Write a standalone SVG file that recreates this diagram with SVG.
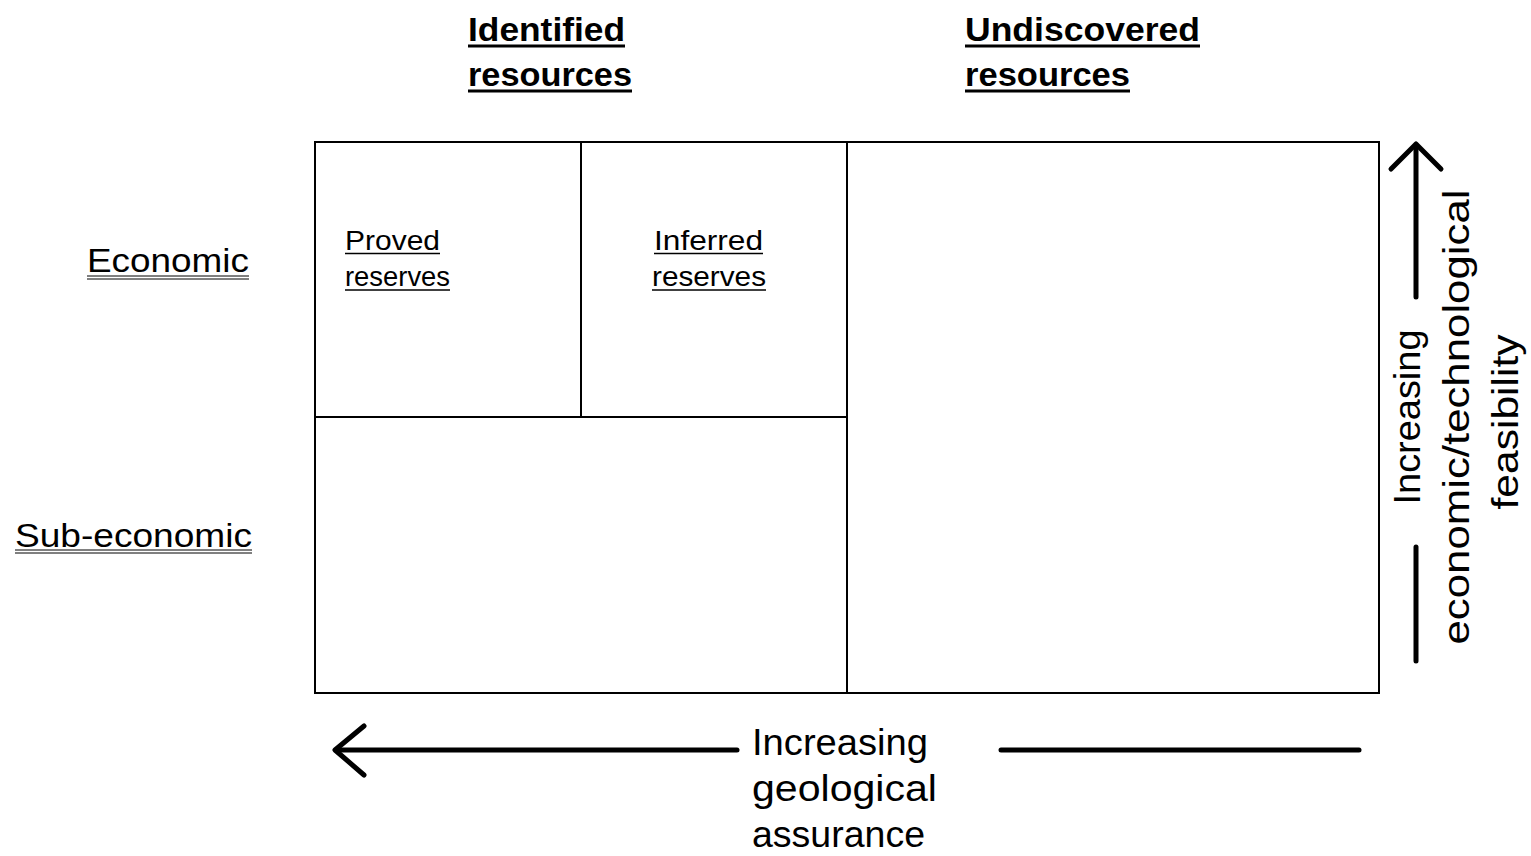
<svg xmlns="http://www.w3.org/2000/svg" width="1531" height="856" viewBox="0 0 1531 856">
<style>
text{font-family:"Liberation Sans",Arial,sans-serif;fill:#000}
.h{font-size:34px;font-weight:bold}
.c{font-size:28px}
.s{font-size:34px}
.a{font-size:36px}
.box{fill:none;stroke:#000;stroke-width:2}
.ul{stroke:#000;stroke-width:1.5}
.ulb{stroke:#000;stroke-width:3}
.ar{fill:none;stroke:#000;stroke-width:5;stroke-linecap:round;stroke-linejoin:round}
</style>
<rect width="1531" height="856" fill="#fff"/>
<g id="header-identified">
<text class="h" x="468" y="41" textLength="157" lengthAdjust="spacingAndGlyphs">Identified</text>
<text class="h" x="468" y="86" textLength="164" lengthAdjust="spacingAndGlyphs">resources</text>
<line class="ulb" x1="468" y1="46" x2="625" y2="46"/>
<line class="ulb" x1="468" y1="91" x2="632" y2="91"/>
</g>
<g id="header-undiscovered">
<text class="h" x="965" y="41" textLength="235" lengthAdjust="spacingAndGlyphs">Undiscovered</text>
<text class="h" x="965" y="86" textLength="165" lengthAdjust="spacingAndGlyphs">resources</text>
<line class="ulb" x1="965" y1="46" x2="1200" y2="46"/>
<line class="ulb" x1="965" y1="91" x2="1130" y2="91"/>
</g>
<g id="label-economic">
<text class="s" x="87" y="272" textLength="162" lengthAdjust="spacingAndGlyphs">Economic</text>
<line stroke="#000" stroke-width="1" x1="87" y1="276" x2="249" y2="276"/>
<line stroke="#000" stroke-width="1" x1="87" y1="279" x2="249" y2="279"/>
</g>
<g id="label-subeconomic">
<text class="s" x="15" y="547" textLength="237" lengthAdjust="spacingAndGlyphs">Sub-economic</text>
<line stroke="#000" stroke-width="1" x1="15" y1="550" x2="252" y2="550"/>
<line stroke="#000" stroke-width="1" x1="15" y1="553" x2="252" y2="553"/>
</g>
<g id="grid">
<rect class="box" x="315" y="142" width="1064" height="551"/>
<line class="box" x1="847" y1="142" x2="847" y2="693"/>
<line class="box" x1="315" y1="417" x2="847" y2="417"/>
<line class="box" x1="581" y1="142" x2="581" y2="417"/>
</g>
<g id="node-proved">
<text class="c" x="345" y="250" textLength="95" lengthAdjust="spacingAndGlyphs">Proved</text>
<text class="c" x="345" y="286" textLength="105" lengthAdjust="spacingAndGlyphs">reserves</text>
<line class="ul" x1="345" y1="253.5" x2="440" y2="253.5"/>
<line class="ul" x1="345" y1="290" x2="450" y2="290"/>
</g>
<g id="node-inferred">
<text class="c" x="654" y="250" textLength="109" lengthAdjust="spacingAndGlyphs">Inferred</text>
<text class="c" x="652" y="286" textLength="114" lengthAdjust="spacingAndGlyphs">reserves</text>
<line class="ul" x1="654" y1="253.5" x2="763" y2="253.5"/>
<line class="ul" x1="652" y1="290" x2="766" y2="290"/>
</g>
<g id="connectors">
<polyline class="ar" points="1391,169 1416,144 1441,169"/>
<line class="ar" x1="1416" y1="145" x2="1416" y2="297"/>
<line class="ar" x1="1416" y1="547" x2="1416" y2="661"/>
<polyline class="ar" points="364,726 335,750 364,775"/>
<line class="ar" x1="336" y1="750" x2="737" y2="750"/>
<line class="ar" x1="1001" y1="750" x2="1359" y2="750"/>
</g>
<g id="label-feasibility">
<text class="a" text-anchor="middle" transform="translate(1420,417) rotate(-90)" textLength="175" lengthAdjust="spacingAndGlyphs">Increasing</text>
<text class="a" text-anchor="middle" transform="translate(1469,417) rotate(-90)" textLength="455" lengthAdjust="spacingAndGlyphs">economic/technological</text>
<text class="a" text-anchor="middle" transform="translate(1518,422) rotate(-90)" textLength="175" lengthAdjust="spacingAndGlyphs">feasibility</text>
</g>
<g id="label-geological">
<text class="a" x="752" y="755" textLength="176" lengthAdjust="spacingAndGlyphs">Increasing</text>
<text class="a" x="752" y="801" textLength="185" lengthAdjust="spacingAndGlyphs">geological</text>
<text class="a" x="752" y="847" textLength="173" lengthAdjust="spacingAndGlyphs">assurance</text>
</g>
</svg>
